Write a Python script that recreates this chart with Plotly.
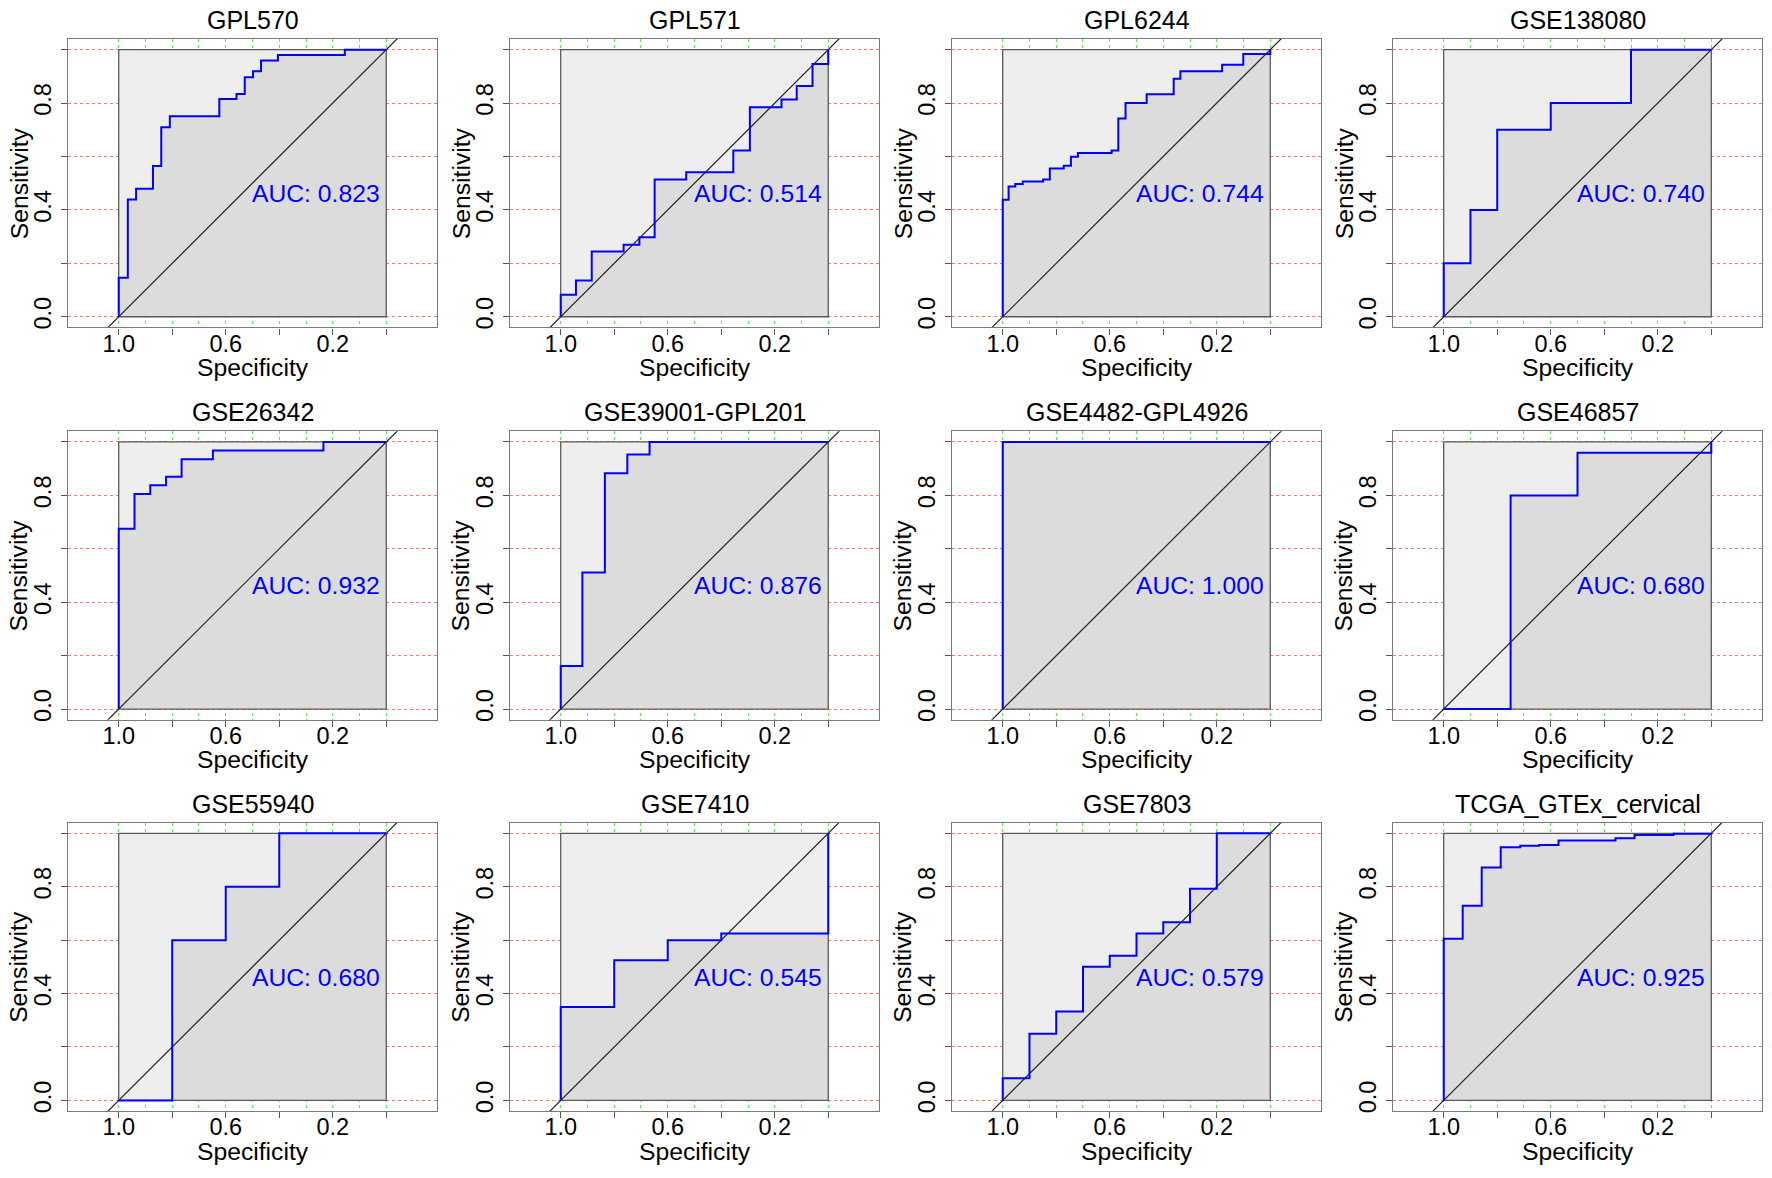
import plotly.graph_objects as go

# ---------------- data ----------------
panel_titles = ["GPL570", "GPL571", "GPL6244", "GSE138080",
                "GSE26342", "GSE39001-GPL201", "GSE4482-GPL4926", "GSE46857",
                "GSE55940", "GSE7410", "GSE7803", "TCGA_GTEx_cervical"]
auc_values = [0.823, 0.514, 0.744, 0.740,
              0.932, 0.876, 1.000, 0.680,
              0.680, 0.545, 0.579, 0.925]

# ROC step corners (specificity, sensitivity); drawn as vertical-then-horizontal steps
gpl570_spec = [1.0, 0.966, 0.935, 0.872, 0.841, 0.809, 0.624, 0.560, 0.529, 0.498, 0.468, 0.405, 0.155, 0.0]
gpl570_sens = [0.0, 0.146, 0.439, 0.479, 0.564, 0.709, 0.751, 0.815, 0.834, 0.897, 0.919, 0.959, 0.980, 1.0]

gpl571_spec = [1.0, 0.943, 0.884, 0.765, 0.706, 0.649, 0.531, 0.355, 0.293, 0.175, 0.118, 0.059, 0.0, 0.0]
gpl571_sens = [0.0, 0.082, 0.136, 0.244, 0.270, 0.298, 0.514, 0.541, 0.622, 0.784, 0.813, 0.864, 0.946, 1.0]

gpl6244_spec = [1.0, 0.978, 0.953, 0.925, 0.849, 0.824, 0.772, 0.745, 0.719, 0.593, 0.568, 0.541, 0.462,
                0.361, 0.336, 0.180, 0.101, 0.0, 0.0]
gpl6244_sens = [0.0, 0.438, 0.488, 0.497, 0.506, 0.514, 0.555, 0.565, 0.599, 0.613, 0.622, 0.742, 0.800,
                0.833, 0.891, 0.919, 0.943, 0.984, 1.0]

gse138080_spec = [1.0, 0.9, 0.8, 0.6, 0.3, 0.0]
gse138080_sens = [0.0, 0.2, 0.4, 0.7, 0.8, 1.0]

gse26342_spec = [1.0, 0.941, 0.882, 0.823, 0.765, 0.648, 0.235, 0.0]
gse26342_sens = [0.0, 0.675, 0.805, 0.838, 0.870, 0.935, 0.968, 1.0]

gse39001_spec = [1.0, 0.919, 0.835, 0.751, 0.668, 0.0]
gse39001_sens = [0.0, 0.161, 0.511, 0.883, 0.953, 1.0]

gse4482_spec = [1.0, 1.0, 0.0]
gse4482_sens = [0.0, 1.0, 1.0]

gse46857_spec = [1.0, 0.75, 0.5, 0.0, 0.0]
gse46857_sens = [0.0, 0.0, 0.8, 0.96, 1.0]

gse55940_spec = [1.0, 0.8, 0.6, 0.4, 0.0]
gse55940_sens = [0.0, 0.0, 0.6, 0.8, 1.0]

gse7410_spec = [1.0, 0.8, 0.6, 0.4, 0.0, 0.0]
gse7410_sens = [0.0, 0.35, 0.525, 0.6, 0.625, 1.0]

gse7803_spec = [1.0, 0.9, 0.8, 0.7, 0.6, 0.5, 0.4, 0.3, 0.2, 0.0]
gse7803_sens = [0.0, 0.083, 0.25, 0.333, 0.5, 0.542, 0.625, 0.667, 0.792, 1.0]

tcga_spec = [1.0, 0.929, 0.858, 0.787, 0.714, 0.643, 0.571, 0.358, 0.287, 0.141, 0.0, 0.0]
tcga_sens = [0.0, 0.605, 0.729, 0.872, 0.948, 0.953, 0.956, 0.973, 0.981, 0.994, 0.998, 1.0]

roc_specs = [gpl570_spec, gpl571_spec, gpl6244_spec, gse138080_spec,
             gse26342_spec, gse39001_spec, gse4482_spec, gse46857_spec,
             gse55940_spec, gse7410_spec, gse7803_spec, tcga_spec]
roc_senss = [gpl570_sens, gpl571_sens, gpl6244_sens, gse138080_sens,
             gse26342_sens, gse39001_sens, gse4482_sens, gse46857_sens,
             gse55940_sens, gse7410_sens, gse7803_sens, tcga_sens]

x_tick_vals = [1.0, 0.8, 0.6, 0.4, 0.2, 0.0]
x_tick_text = ["1.0", "", "0.6", "", "0.2", ""]
x_minor_vals = [0.9, 0.7, 0.5, 0.3, 0.1]
y_tick_vals = [0.0, 0.2, 0.4, 0.6, 0.8, 1.0]
y_tick_text = ["0.0", "", "0.4", "", "0.8", ""]

# ---------------- layout geometry / style ----------------
OFF = 8                      # page body margin
W, H = 1772 - 2 * OFF, 1178 - 2 * OFF
col_left = [68 - OFF, 510 - OFF, 952 - OFF, 1393 - OFF]
row_top = [39 - OFF, 432 - OFF, 824 - OFF]
PW, PH = 369, 289
FONT = "Liberation Sans, Arial, Helvetica, sans-serif"
LO, HI = 0.0, 1.0
box_x = [HI, LO, LO, HI, HI]
box_y = [LO, LO, HI, HI, LO]
diag = [-0.5, 1.5]
GREEN = "rgba(0,205,0,0.6)"
RED = "rgba(255,0,0,0.55)"

fig = go.Figure()
layout = dict(width=W, height=H, margin=dict(l=0, r=0, t=0, b=0),
              paper_bgcolor="white", plot_bgcolor="white",
              font=dict(family=FONT, color="black", size=23),
              showlegend=False, annotations=[])

for k in range(len(panel_titles)):
    r, c = divmod(k, 4)
    sfx = "" if k == 0 else str(k + 1)
    xa, ya = "x" + sfx, "y" + sfx
    x0, y0 = col_left[c], row_top[r]
    spec, sens = roc_specs[k], roc_senss[k]
    common = dict(xaxis=xa, yaxis=ya, hoverinfo="skip", showlegend=False)

    # max-AUC polygon (light)
    fig.add_trace(go.Scatter(x=box_x, y=box_y, mode="lines", fill="toself",
                             fillcolor="#EEEEEE", line=dict(width=0), **common))
    # AUC polygon (below curve)
    fig.add_trace(go.Scatter(x=spec, y=sens, mode="lines", line_shape="vh",
                             fill="tozeroy", fillcolor="#DCDCDC",
                             line=dict(width=0, color="rgba(0,0,0,0)"), **common))
    # box border
    fig.add_trace(go.Scatter(x=box_x, y=box_y, mode="lines",
                             line=dict(width=1.3, color="#5a5a5a"), **common))
    # identity line
    fig.add_trace(go.Scatter(x=[1 - d for d in diag], y=diag, mode="lines",
                             line=dict(width=1.2, color="#222222"), **common))
    # ROC curve
    fig.add_trace(go.Scatter(x=spec, y=sens, mode="lines", line_shape="vh",
                             line=dict(width=2, color="#0000FF"), **common))

    layout["xaxis" + sfx] = dict(
        domain=[x0 / W, (x0 + PW) / W], range=[1.1895, -0.1895], anchor=ya,
        tickmode="array", tickvals=x_tick_vals, ticktext=x_tick_text,
        ticks="outside", ticklen=6, tickwidth=1, tickcolor="#555555",
        tickfont=dict(size=23.5, family=FONT, color="black"), ticklabelstandoff=-11,
        showgrid=True, gridcolor=GREEN, griddash="dot", gridwidth=1,
        minor=dict(tickvals=x_minor_vals, showgrid=True, gridcolor=GREEN,
                   griddash="dot", gridwidth=1, ticks=""),
        zeroline=False, showline=True, mirror=True, linecolor="#7a7a7a", linewidth=1.3,
        fixedrange=True)
    layout["yaxis" + sfx] = dict(
        domain=[1 - (y0 + PH) / H, 1 - y0 / H], range=[-0.04, 1.04], anchor=xa,
        tickmode="array", tickvals=y_tick_vals, ticktext=y_tick_text, tickangle=-90,
        ticks="outside", ticklen=6, tickwidth=1, tickcolor="#555555",
        tickfont=dict(size=23.5, family=FONT, color="black"),
        showgrid=True, gridcolor=RED, griddash="dot", gridwidth=1,
        zeroline=False, showline=True, mirror=True, linecolor="#7a7a7a", linewidth=1.3,
        fixedrange=True)

    cx = (x0 + PW / 2) / W
    # panel title
    layout["annotations"].append(dict(
        text=panel_titles[k], xref="paper", yref="paper", x=cx, y=1 - (y0 - 19) / H,
        xanchor="center", yanchor="middle", showarrow=False,
        font=dict(size=25, family=FONT, color="black")))
    # x title
    layout["annotations"].append(dict(
        text="Specificity", xref="paper", yref="paper", x=cx, y=1 - (y0 + PH + 40) / H,
        xanchor="center", yanchor="middle", showarrow=False,
        font=dict(size=24.7, family=FONT, color="black")))
    # y title
    layout["annotations"].append(dict(
        text="Sensitivity", xref="paper", yref="paper", x=(x0 - 49) / W,
        y=1 - (y0 + PH / 2) / H, xanchor="center", yanchor="middle", textangle=-90,
        showarrow=False, font=dict(size=24.7, family=FONT, color="black")))
    # AUC label
    layout["annotations"].append(dict(
        text="AUC: %.3f" % auc_values[k], xref=xa, yref=ya, x=0.51, y=0.519,
        xanchor="left", yanchor="top", showarrow=False,
        font=dict(size=24.7, family=FONT, color="#0000FF")))

fig.update_layout(**layout)
fig.write_html("out.html")
